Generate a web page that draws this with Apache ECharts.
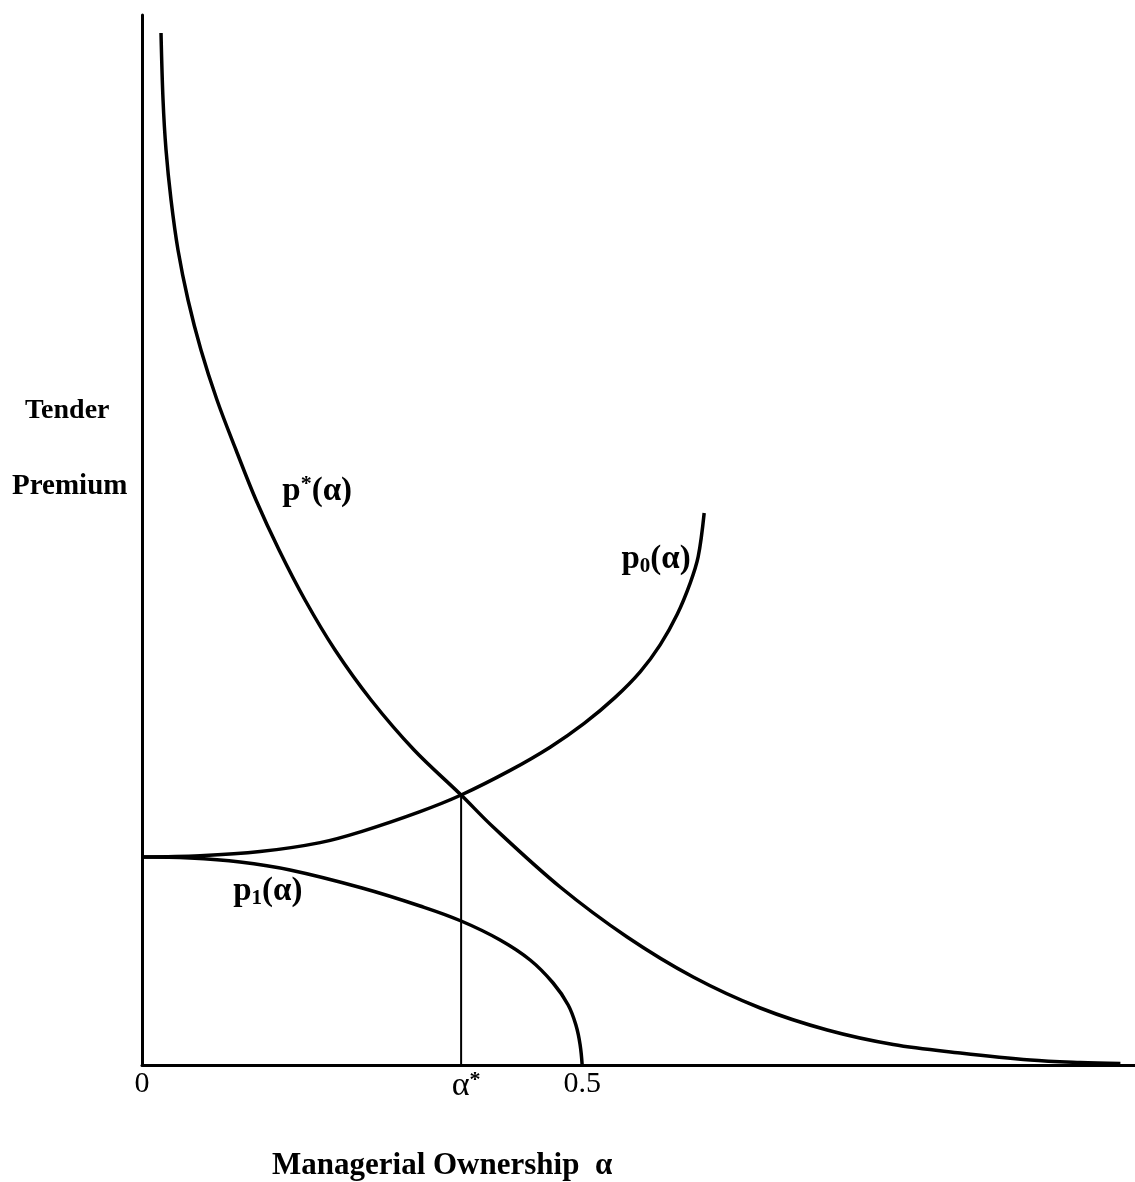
<!DOCTYPE html>
<html>
<head>
<meta charset="utf-8">
<script src="https://cdn.jsdelivr.net/npm/echarts@6/dist/echarts.min.js"></script>
<style>
html,body{margin:0;padding:0;background:#fff;}
#chart{width:1135px;height:1182px;}
</style>
</head>
<body>
<div id="chart"></div>
<script>
// ---- data (α = managerial ownership, value = tender premium, arbitrary units) ----
const pStarAlpha = [0.0216,0.0239,0.0273,0.0330,0.0409,0.0523,0.0670,0.0852,0.1068,0.1295,0.1557,0.1852,0.2193,0.2602,0.3091,0.3625,0.3989,0.4750,0.5511,0.6261,0.7023,0.7784,0.8534,0.9295,1.0091,1.0659,1.1114];
const pStarValue = [103.2,96.5,91.5,86.5,81.5,76.5,71.5,66.5,61.5,56.5,51.5,46.5,41.5,36.5,31.5,27.0,23.8,17.8,12.8,8.8,5.7,3.5,2.05,1.2,0.5,0.25,0.15];

const p0Alpha = [0,0.0659,0.1341,0.2023,0.25,0.3159,0.3625,0.4182,0.4636,0.5023,0.5375,0.5659,0.5886,0.6080,0.6227,0.6318,0.6386];
const p0Value = [20.8,20.92,21.34,22.24,23.37,25.34,27.0,29.46,31.78,34.16,36.76,39.31,42.01,45.07,48.19,50.83,55.2];

const p1Alpha = [0,0.0545,0.1114,0.1682,0.25,0.3159,0.3625,0.4068,0.4409,0.4670,0.4841,0.4932,0.4977,0.5];
const p1Value = [20.8,20.7,20.3,19.5,17.7,15.9,14.4,12.5,10.5,8.2,6.0,3.9,2.0,0];

const alphaStar = 0.3625;
const alphaStarValue = 27.0;

const tickValues = [0, alphaStar, 0.5];
const tickLabels = ['0', '{a|α}{s|*}', '0.5'];

const xMax = 1.128;
const yMax = 105;

// ---- chart ----
const zip = (xs, ys) => xs.map((x, i) => [x, ys[i]]);
const serif = '"Liberation Serif","DejaVu Serif",serif';
const lineStyle = {color: '#000', width: 3.5};

const labelRich = {
  b: {fontFamily: serif, fontSize: 33, fontWeight: 'bold', color: '#000', lineHeight: 36},
  sup: {fontFamily: serif, fontSize: 22, fontWeight: 'bold', color: '#000', verticalAlign: 'top', lineHeight: 36},
  sub: {fontFamily: serif, fontSize: 21, fontWeight: 'bold', color: '#000', verticalAlign: 'bottom', lineHeight: 30}
};
function textMark(coord, formatter) {
  return {
    coord: coord, symbol: 'rect', symbolSize: 1,
    itemStyle: {color: 'rgba(0,0,0,0)'},
    label: {show: true, position: 'inside', formatter: formatter, rich: labelRich}
  };
}

const chart = echarts.init(document.getElementById('chart'), null, {renderer: 'canvas'});
chart.setOption({
  animation: false,
  backgroundColor: '#fff',
  grid: {left: 142, right: 0, top: 15, bottom: 117},
  xAxis: {
    type: 'value', min: 0, max: xMax,
    splitLine: {show: false},
    axisTick: {show: false},
    axisLine: {lineStyle: {color: '#000', width: 3}},
    axisLabel: {
      customValues: tickValues,
      margin: 4,
      fontFamily: serif, fontSize: 30, color: '#000',
      formatter: function (v) {
        const i = tickValues.findIndex(t => Math.abs(t - v) < 1e-6);
        return i >= 0 ? tickLabels[i] : '';
      },
      rich: {
        a: {fontFamily: serif, fontSize: 34, color: '#000', lineHeight: 34, padding: [0, 0, 0, 10]},
        s: {fontFamily: serif, fontSize: 22, fontWeight: 'bold', color: '#000', verticalAlign: 'top', lineHeight: 34}
      }
    }
  },
  yAxis: {
    type: 'value', min: 0, max: yMax,
    splitLine: {show: false},
    axisTick: {show: false},
    axisLabel: {show: false},
    axisLine: {show: true, lineStyle: {color: '#000', width: 3}}
  },
  series: [
    {
      name: 'p*(α)', type: 'line', data: zip(pStarAlpha, pStarValue),
      showSymbol: false, smooth: 0.35, lineStyle: lineStyle,
      markPoint: {data: [textMark([0.199, 57.4], '{b|p}{sup|*}{b|(α)}')]}
    },
    {
      name: 'p0(α)', type: 'line', data: zip(p0Alpha, p0Value),
      showSymbol: false, smooth: 0.35, lineStyle: lineStyle,
      markPoint: {data: [textMark([0.584, 50.6], '{b|p}{sub|0}{b|(α)}')]}
    },
    {
      name: 'p1(α)', type: 'line', data: zip(p1Alpha, p1Value),
      showSymbol: false, smooth: 0.4, lineStyle: lineStyle,
      markPoint: {data: [textMark([0.143, 17.4], '{b|p}{sub|1}{b|(α)}')]}
    },
    {
      name: 'alphaStar', type: 'line', data: [[alphaStar, 0], [alphaStar, alphaStarValue]],
      showSymbol: false, lineStyle: {color: '#000', width: 2}
    }
  ],
  graphic: [
    {type: 'text', left: 25, top: 397, style: {text: 'Tender', font: 'bold 28px ' + serif, fill: '#000'}},
    {type: 'text', left: 12, top: 472, style: {text: 'Premium', font: 'bold 29px ' + serif, fill: '#000'}},
    {type: 'text', left: 272, top: 1150, style: {text: 'Managerial Ownership  α', font: 'bold 31px ' + serif, fill: '#000'}}
  ]
});
</script>
</body>
</html>
